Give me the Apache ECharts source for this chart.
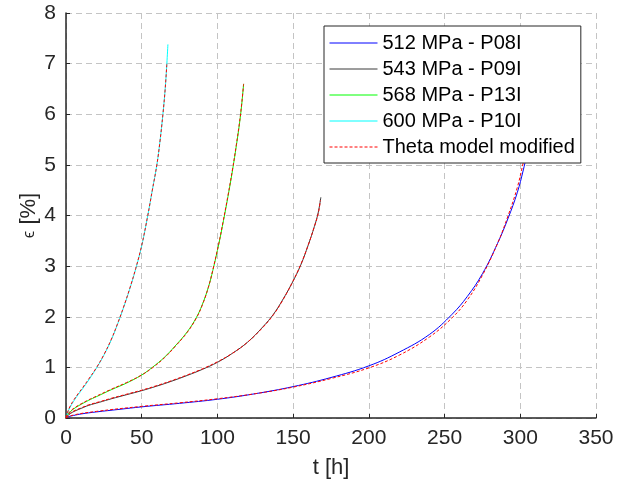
<!DOCTYPE html>
<html>
<head>
<meta charset="utf-8">
<script src="https://cdn.jsdelivr.net/npm/echarts@6/dist/echarts.min.js"></script>
<style>html,body{margin:0;padding:0;background:#fff}#c{width:633px;height:490px}</style>
</head>
<body>
<div id="c"></div>
<script>
// ---- data (t [h], strain [%]) ----
var xTicks = [0, 50, 100, 150, 200, 250, 300, 350];
var yTicks = [0, 1, 2, 3, 4, 5, 6, 7, 8];

var names = ['512 MPa - P08I', '543 MPa - P09I', '568 MPa - P13I', '600 MPa - P10I', 'Theta model modified'];

var exp512 = [[0,0],[2,0.03],[5,0.05],[10,0.08],[20,0.12],[35,0.17],[50,0.22],[75,0.29],[100,0.37],[125,0.48],[150,0.62],[175,0.8],[200,1.03],[220,1.3],[240,1.65],[255,2.05],[265,2.4],[275,2.85],[285,3.45],[292,3.95],[298,4.45],[302,4.9],[305,5.3]];
var exp543 = [[0,0],[1,0.04],[3,0.09],[6,0.14],[10,0.19],[15,0.25],[22,0.31],[30,0.38],[40,0.46],[50,0.54],[60,0.63],[70,0.73],[80,0.84],[90,0.96],[100,1.1],[110,1.28],[120,1.5],[130,1.8],[137,2.05],[143,2.33],[149,2.65],[155,3.02],[160,3.42],[164,3.78],[166.5,4.05],[168.3,4.36]];
var exp568 = [[0,0],[1,0.06],[3,0.13],[6,0.2],[10,0.27],[15,0.35],[20,0.42],[30,0.56],[40,0.69],[50,0.85],[57,1.0],[65,1.2],[72,1.42],[80,1.7],[86,1.98],[90,2.24],[94,2.58],[97,2.92],[101,3.45],[104,3.9],[107,4.38],[110,4.9],[112.5,5.38],[114.5,5.8],[116,6.18],[117.3,6.6]];
var exp600 = [[0,0],[1,0.1],[2.5,0.2],[5,0.33],[8,0.46],[11,0.58],[15,0.75],[20,0.98],[25,1.24],[30,1.55],[34,1.85],[38,2.18],[42,2.54],[46,2.94],[50,3.4],[54,4.0],[57,4.5],[60,5.0],[62,5.45],[64,6.0],[65.5,6.5],[66.6,7.0],[67.3,7.38]];

var mod512 = [[0,0],[5,0.06],[20,0.13],[50,0.23],[75,0.3],[100,0.38],[125,0.48],[150,0.61],[175,0.78],[200,0.99],[220,1.24],[240,1.6],[255,1.98],[265,2.33],[275,2.82],[285,3.45],[292,4.0],[298,4.55],[302,5.05],[305,5.45]];
var mod543 = [[0,0],[1,0.05],[3,0.1],[6,0.15],[10,0.2],[15,0.26],[22,0.32],[30,0.39],[40,0.47],[50,0.55],[60,0.64],[70,0.74],[80,0.85],[90,0.97],[100,1.11],[110,1.28],[120,1.5],[130,1.79],[137,2.04],[143,2.32],[149,2.65],[155,3.03],[160,3.42],[164,3.78],[166.5,4.03],[168,4.3]];
var mod568 = [[0,0],[1,0.07],[3,0.14],[6,0.21],[10,0.28],[15,0.36],[20,0.43],[30,0.57],[40,0.7],[50,0.85],[57,0.99],[65,1.19],[72,1.41],[80,1.69],[86,1.97],[90,2.23],[94,2.58],[97,2.93],[101,3.46],[104,3.92],[107,4.4],[110,4.92],[112.5,5.4],[114.5,5.82],[116,6.2],[117.3,6.6]];
var mod600 = [[0,0],[1,0.11],[2.5,0.22],[5,0.35],[8,0.48],[11,0.6],[15,0.77],[20,0.99],[25,1.25],[30,1.56],[34,1.86],[38,2.19],[42,2.55],[46,2.95],[50,3.41],[54,4.0],[57,4.5],[60,5.0],[62,5.45],[64,6.0],[65.5,6.5],[66.6,7.0]];

// ---- chart ----
var font = '"Liberation Sans", Arial, sans-serif';
var axisColor = '#262626';
function expSeries(name, data, color) {
  return { name: name, type: 'line', data: data, symbol: 'none', smooth: 0.4,
    lineStyle: { color: color, width: 1 }, itemStyle: { color: color, opacity: 0 }, z: 2 };
}
function modSeries(data) {
  return { name: names[4], type: 'line', data: data, symbol: 'none', smooth: 0.4,
    lineStyle: { color: '#ff0000', width: 1, type: [3, 2] }, itemStyle: { color: '#ff0000', opacity: 0 }, z: 3 };
}
var chart = echarts.init(document.getElementById('c'), null, { renderer: 'canvas' });
chart.setOption({
  animation: false,
  backgroundColor: '#ffffff',
  grid: { left: 66, right: 37, top: 13, bottom: 72 },
  legend: {
    data: names, orient: 'vertical', left: 324, top: 26,
    backgroundColor: '#ffffff', borderColor: axisColor, borderWidth: 1, borderRadius: 0,
    padding: [7, 6, 6, 5], itemWidth: 48, itemHeight: 14, itemGap: 6,
    itemStyle: { opacity: 0 },
    lineStyle: { width: 1 },
    textStyle: { fontFamily: font, fontSize: 20, color: '#000' }
  },
  xAxis: {
    type: 'value', min: xTicks[0], max: xTicks[xTicks.length - 1], interval: 50,
    name: 't [h]', nameLocation: 'middle', nameGap: 39, nameMoveOverlap: false,
    nameTextStyle: { fontFamily: font, fontSize: 22, color: axisColor },
    axisLine: { show: true, lineStyle: { color: axisColor, width: 1.5 } },
    axisTick: { show: true, inside: true, length: 4, lineStyle: { color: axisColor } },
    axisLabel: { fontFamily: font, fontSize: 21, color: axisColor, margin: 10 },
    splitLine: { show: true, lineStyle: { color: '#c4c4c4', type: [6, 4], width: 1 } }
  },
  yAxis: {
    type: 'value', min: yTicks[0], max: yTicks[yTicks.length - 1], interval: 1,
    name: '{e|ϵ} [%]', nameLocation: 'middle', nameGap: 26, nameRotate: 90, nameMoveOverlap: false,
    nameTextStyle: { fontFamily: font, fontSize: 22, color: axisColor,
      rich: { e: { fontFamily: font, fontSize: 17, color: axisColor } } },
    axisLine: { show: true, lineStyle: { color: axisColor, width: 1.5 } },
    axisTick: { show: true, inside: true, length: 4, lineStyle: { color: axisColor } },
    axisLabel: { fontFamily: font, fontSize: 21, color: axisColor, margin: 10 },
    splitLine: { show: true, lineStyle: { color: '#c4c4c4', type: [6, 4], width: 1 } }
  },
  series: [
    expSeries(names[0], exp512, '#0000ff'),
    expSeries(names[1], exp543, '#3a3a3a'),
    expSeries(names[2], exp568, '#00ff00'),
    expSeries(names[3], exp600, '#00ffff'),
    modSeries(mod512), modSeries(mod543), modSeries(mod568), modSeries(mod600)
  ]
});
</script>
</body>
</html>
